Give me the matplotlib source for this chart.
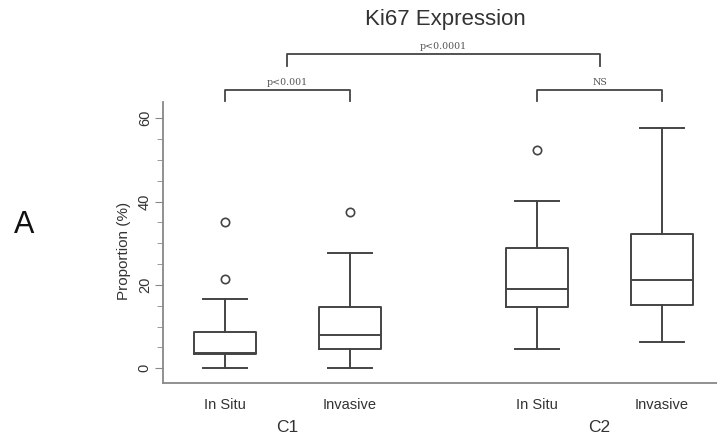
import numpy as np
import matplotlib.pyplot as plt
from matplotlib.ticker import MultipleLocator

plt.rcParams['font.family'] = ['Liberation Sans', 'DejaVu Sans']

# box statistics (Proportion %)
groups = ["C1", "C2"]
tick_labels = ["In Situ", "Invasive", "In Situ", "Invasive"]
positions = [1.0, 2.0, 3.5, 4.5]
whislo = [0.0, 0.0, 4.6, 6.4]
q1 = [3.4, 4.6, 14.6, 15.2]
med = [3.6, 8.0, 19.0, 21.1]
q3 = [8.8, 14.8, 28.8, 32.3]
whishi = [16.6, 27.6, 40.2, 57.6]
fliers = [[21.4, 35.0], [37.6], [52.4], []]

comparisons = [(0, 1, "p<0.001"), (2, 3, "NS")]
overall_label = "p<0.0001"

line_col = "#444444"
text_col = "#333333"

fig = plt.figure(figsize=(7.17, 4.41), dpi=100)
ax = fig.add_axes([0.2273, 0.1315, 0.7727, 0.6372])

stats = []
for i in range(len(positions)):
    stats.append(dict(whislo=whislo[i], q1=q1[i], med=med[i], q3=q3[i],
                      whishi=whishi[i], fliers=fliers[i]))

ax.bxp(stats, positions=positions, widths=0.5, showfliers=True,
       boxprops=dict(color=line_col, linewidth=1.4),
       medianprops=dict(color=line_col, linewidth=1.4),
       whiskerprops=dict(color=line_col, linewidth=1.4),
       capprops=dict(color=line_col, linewidth=1.4),
       capwidths=0.35,
       flierprops=dict(marker="o", markerfacecolor="none",
                       markeredgecolor=line_col, markersize=6,
                       markeredgewidth=1.2))

ax.set_xlim(0.504, 4.94)
ax.set_ylim(-3.53, 63.9)

for s in ["top", "right"]:
    ax.spines[s].set_visible(False)
for s in ["left", "bottom"]:
    ax.spines[s].set_color("#888888")
    ax.spines[s].set_linewidth(1.3)

ax.yaxis.set_major_locator(MultipleLocator(20))
ax.yaxis.set_minor_locator(MultipleLocator(5))
ax.tick_params(axis="y", which="major", length=6, color="#888888",
               labelsize=10.5, labelcolor=text_col, pad=2)
ax.tick_params(axis="y", which="minor", length=4, color="#888888")
for lab in ax.get_yticklabels():
    lab.set_rotation(90)
    lab.set_va("center")
ax.set_ylabel("Proportion (%)", fontsize=11, color=text_col, labelpad=-1)
ax.yaxis.set_label_coords(-0.058, 0.47)

ax.set_xticks(positions)
ax.set_xticklabels(tick_labels, fontsize=10.5, color=text_col)
ax.tick_params(axis="x", length=0, pad=11)

# group labels under the ticks
for k, g in enumerate(groups):
    xc = (positions[2 * k] + positions[2 * k + 1]) / 2
    ax.text(xc, -14.3, g, ha="center", va="center", fontsize=12.5,
            color=text_col, clip_on=False)

# significance brackets
def bracket(x0, x1, y, h, label):
    ax.plot([x0, x0, x1, x1], [y - h, y, y, y - h], color=line_col,
            linewidth=1.3, clip_on=False)
    ax.text((x0 + x1) / 2, y + 0.6, label, ha="center", va="bottom",
            fontsize=6.8, color="#555555", clip_on=False,
            family=["DejaVu Serif"])

for a, b, lab in comparisons:
    bracket(positions[a], positions[b], 66.8, 2.7, lab)

c1 = (positions[0] + positions[1]) / 2
c2 = (positions[2] + positions[3]) / 2
bracket(c1, c2, 75.5, 2.9, overall_label)

fig.text(445 / 717, 1 - 20 / 441, "Ki67 Expression", ha="center",
         va="center", fontsize=16, color=text_col)
fig.text(24 / 717, 1 - 225 / 441, "A", ha="center", va="center",
         fontsize=22, color="#111111")

fig.savefig("out.png", dpi=100)
